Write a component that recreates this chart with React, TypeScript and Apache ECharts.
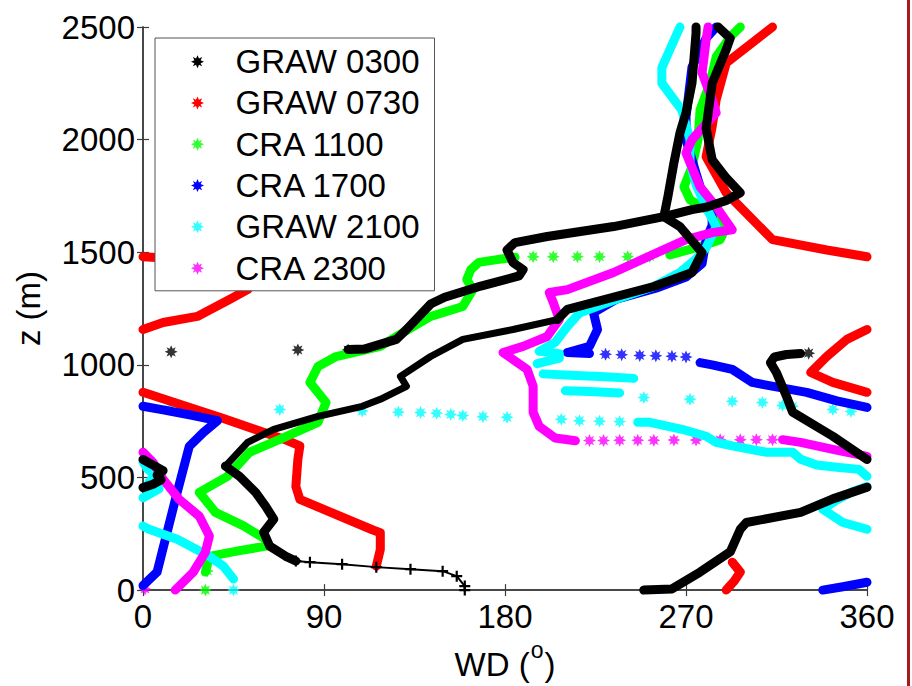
import React, { useEffect, useRef } from "react";
import * as echarts from "echarts";

type P = [number, number];

// ---------- axes / legend ----------
const xTicks = [0, 90, 180, 270, 360];
const yTicks = [0, 500, 1000, 1500, 2000, 2500];
const legendNames = ["GRAW 0300", "GRAW 0730", "CRA 1100", "CRA 1700", "GRAW 2100", "CRA 2300"];
const seriesColors = ["#000000", "#ff0000", "#00ff00", "#0000ff", "#00ffff", "#ff00ff"];

// ---------- GRAW 0300 (black) : [WD deg, z m] ----------
const graw0300A: P[] = [[249, 0], [263, 5], [277, 80], [292, 170], [297, 270], [300, 300], [327, 345], [343, 405], [360, 457]];
const graw0300B: P[] = [[0, 455], [5, 470], [9, 490], [7, 510], [10, 530], [5, 555], [0, 580]];
const graw0300C: P[] = [[360, 580], [343, 683], [323, 790], [320, 860], [315, 965], [312, 1010], [314, 1035], [320, 1046], [327, 1050]];
const graw0300Sparse: P[] = [[331, 1052], [14, 1058], [77, 1066], [102, 1066]];
const graw0300D: P[] = [[102, 1068], [110, 1070], [126, 1113], [131, 1157], [143, 1270], [150, 1300], [168, 1350], [187, 1395], [189, 1423], [184, 1454], [181, 1510], [185, 1543], [201, 1570], [234, 1614], [259, 1658], [273, 1689], [280, 1700], [290, 1730], [297, 1764], [290, 1830], [283, 1911], [280, 2050], [283, 2250], [290, 2400], [292, 2450], [286, 2500]];

// ---------- black "+" profile (no legend entry) ----------
const plusRow: P[] = [[160, 0], [160, 18], [156, 62], [149, 84], [133, 93], [116, 102], [99, 115], [83, 124], [76, 129]];
const plusLow: P[] = [[76, 129], [71, 150], [63, 195], [60, 257], [65, 315], [61, 372], [56, 434], [48, 505], [41, 550]];
const plusMid: P[] = [[41, 550], [52, 656], [65, 714], [87, 771], [109, 816], [118, 847], [131, 905], [128, 949], [143, 1037], [159, 1113], [184, 1157], [206, 1201]];
const plusTop: P[] = [[206, 1201], [211, 1246], [254, 1348], [273, 1410], [278, 1498], [267, 1614], [259, 1658], [261, 1747], [264, 1897], [267, 2030], [270, 2119], [273, 2252], [275, 2474], [275, 2500]];

// ---------- GRAW 0730 (red) ----------
const graw0730A: P[] = [[290, 0], [294, 40], [297, 80], [293, 124]];
const graw0730B: P[] = [[116, 106], [118, 180], [118, 255], [114, 268], [78, 403], [76, 460], [77, 580], [78, 640], [70, 670], [40, 762], [0, 878]];
const graw0730C: P[] = [[360, 878], [343, 922], [332, 966], [340, 1037], [350, 1113], [360, 1157]];
const graw0730D: P[] = [[0, 1157], [10, 1188], [27, 1215], [43, 1290], [52, 1334], [56, 1380], [45, 1440], [20, 1470], [0, 1480]];
const graw0730E: P[] = [[360, 1480], [340, 1510], [313, 1556], [290, 1764], [280, 1924], [283, 2057], [285, 2177], [290, 2340], [313, 2500]];

// ---------- CRA 1100 (green) ----------
const cra1100Sparse: P[] = [[31, 0], [32, 85], [194, 1480], [204, 1480], [216, 1480], [227, 1480], [241, 1480], [252, 1480]];
const cra1100A: P[] = [[31, 80], [33, 150], [48, 175], [61, 195], [61, 226], [50, 285], [36, 345], [28, 434], [42, 505], [53, 612], [68, 669], [87, 745], [91, 833], [83, 922], [87, 993], [96, 1037], [118, 1082], [126, 1126], [143, 1215], [159, 1259], [164, 1334], [161, 1379], [163, 1423], [167, 1455], [176, 1467], [185, 1478]];
const cra1100B: P[] = [[262, 1488], [277, 1525], [287, 1556], [290, 1614], [283, 1675], [272, 1733], [269, 1790], [273, 1880], [276, 2000], [277, 2132], [282, 2252], [285, 2367], [292, 2456], [297, 2500]];

// ---------- CRA 1700 (blue) ----------
const cra1700A: P[] = [[338, 0], [348, 15], [360, 35]];
const cra1700B: P[] = [[0, 20], [7, 80], [12, 257], [17, 434], [23, 638], [30, 700], [37, 752], [25, 775], [10, 800], [0, 816]];
const cra1700C: P[] = [[360, 811], [345, 840], [330, 878], [310, 910], [303, 922], [293, 980], [283, 1000], [277, 1010]];
const cra1700Sparse: P[] = [[270, 1035], [263, 1038], [255, 1040], [247, 1042], [238, 1045], [230, 1047]];
const cra1700D: P[] = [[222, 1050], [211, 1055], [222, 1082], [226, 1157], [224, 1232], [235, 1290], [255, 1340], [270, 1390], [278, 1450], [280, 1556], [283, 1620], [283, 1702], [279, 1733], [275, 1850], [270, 2000], [270, 2101], [273, 2323], [280, 2450], [285, 2500]];

// ---------- GRAW 2100 (cyan) ----------
const graw2100Sparse: P[] = [[45, 0], [237, 748], [227, 750], [217, 752], [208, 758], [181, 767], [169, 770], [159, 775], [153, 780], [146, 785], [138, 788], [127, 790], [109, 795], [68, 802], [13, 802], [352, 793], [343, 802], [323, 816], [318, 820], [308, 833], [293, 838], [272, 847], [249, 855]];
const graw2100A: P[] = [[45, 49], [40, 106], [33, 150], [17, 226], [3, 270], [0, 284]];
const graw2100B: P[] = [[360, 270], [348, 300], [338, 359], [345, 400], [352, 434], [360, 460]];
const graw2100C: P[] = [[0, 410], [4, 430], [8, 450], [3, 480], [6, 510], [2, 540], [0, 570]];
const graw2100D: P[] = [[360, 505], [356, 536], [345, 545], [335, 555], [327, 581], [323, 612], [310, 612], [293, 640], [285, 656], [280, 683], [268, 714], [252, 745], [246, 745]];
const graw2100E: P[] = [[237, 875], [222, 882], [210, 885]];
const graw2100F: P[] = [[244, 940], [230, 947], [215, 953], [199, 960]];
const graw2100G: P[] = [[196, 1005], [207, 1030], [207, 1050], [198, 1060]];
const graw2100H: P[] = [[197, 1060], [205, 1100], [211, 1170], [217, 1230], [235, 1290], [254, 1348], [267, 1410], [275, 1470], [280, 1520], [285, 1614], [280, 1700], [275, 1800], [272, 1900], [272, 2000], [268, 2130], [258, 2250], [258, 2320], [262, 2400], [267, 2500]];

// ---------- CRA 2300 (magenta) ----------
const cra2300Sparse: P[] = [[1, 5], [313, 668], [305, 668], [297, 667], [287, 667], [275, 666], [264, 666], [254, 665], [246, 665], [237, 665], [229, 664], [222, 664]];
const cra2300A: P[] = [[16, 0], [25, 80], [31, 168], [33, 240], [28, 328], [18, 403], [10, 492], [5, 567], [0, 612]];
const cra2300B: P[] = [[360, 594], [343, 625], [327, 656], [318, 668]];
const cra2300C: P[] = [[215, 663], [205, 675], [197, 727], [194, 789], [194, 905], [191, 980], [179, 1055], [189, 1082], [201, 1126], [207, 1201], [204, 1277], [202, 1321], [211, 1334], [234, 1410], [259, 1512], [270, 1556], [283, 1587], [293, 1600], [285, 1702], [277, 1790], [270, 1941], [273, 2000], [285, 2119], [283, 2177], [278, 2296], [280, 2443], [281, 2500]];

const STAR =
  "path://M10 0L12.3 5.2L17.1 2.9L14.8 7.7L20 10L14.8 12.3L17.1 17.1L12.3 14.8L10 20L7.7 14.8L2.9 17.1L5.2 12.3L0 10L5.2 7.7L2.9 2.9L7.7 5.2Z";
const PLUS = "path://M4 0H6V4H10V6H6V10H4V6H0V4H4Z";
const FONT = "'Liberation Sans', Arial, Helvetica, sans-serif";
const LINE_W = 9;

function dense(name: string, data: P[], color: string, width = LINE_W) {
  return {
    type: "line",
    name,
    data,
    symbol: "none",
    clip: false,
    silent: true,
    lineStyle: { color, width, cap: "round", join: "round" },
    itemStyle: { color },
  };
}
function sparse(name: string, data: P[], color: string, size = 13, symbol = STAR) {
  return {
    type: "scatter",
    name,
    data,
    symbol,
    symbolSize: size,
    clip: false,
    silent: true,
    itemStyle: { color },
  };
}

export default function App() {
  const ref = useRef<HTMLDivElement>(null);
  useEffect(() => {
    document.body.style.margin = "0";
    const chart = echarts.init(ref.current as HTMLDivElement, undefined, { renderer: "svg" });
    const [n0, n1, n2, n3, n4, n5] = legendNames;
    const [c0, c1, c2, c3, c4, c5] = seriesColors;
    const axisLine = { show: true, lineStyle: { color: "#3c3c3c", width: 1.5 } };
    const tick = { show: true, inside: true, length: 6, lineStyle: { color: "#3c3c3c", width: 1.2 } };
    const series: any[] = [
      dense(n1, graw0730A, c1), dense(n1, graw0730B, c1), dense(n1, graw0730C, c1), dense(n1, graw0730D, c1), dense(n1, graw0730E, c1),
      sparse(n2, cra1100Sparse, c2), dense(n2, cra1100A, c2), dense(n2, cra1100B, c2),
      dense(n3, cra1700A, c3), dense(n3, cra1700B, c3), dense(n3, cra1700C, c3), sparse(n3, cra1700Sparse, c3), dense(n3, cra1700D, c3),
      sparse(n4, graw2100Sparse, c4), dense(n4, graw2100A, c4), dense(n4, graw2100B, c4), dense(n4, graw2100C, c4), dense(n4, graw2100D, c4),
      dense(n4, graw2100E, c4), dense(n4, graw2100F, c4), dense(n4, graw2100G, c4), dense(n4, graw2100H, c4),
      sparse(n5, cra2300Sparse, c5), dense(n5, cra2300A, c5), dense(n5, cra2300B, c5), dense(n5, cra2300C, c5),
      dense(n0, graw0300A, c0), dense(n0, graw0300B, c0), dense(n0, graw0300C, c0), sparse(n0, graw0300Sparse, c0), dense(n0, graw0300D, c0),
      { ...dense("_plus", plusRow, c0, 2), symbol: PLUS, symbolSize: 11, showSymbol: true, itemStyle: { color: c0 } },
      dense("_plus", plusLow, c0), dense("_plus", plusMid, c0, 7), dense("_plus", plusTop, c0),
    ];
    chart.setOption({
      animation: false,
      textStyle: { fontFamily: FONT },
      grid: { left: 143, right: 45, top: 27, bottom: 95, containLabel: false },
      legend: {
        data: legendNames.map((n, i) => ({ name: n, icon: STAR, itemStyle: { color: seriesColors[i] } })),
        orient: "vertical",
        left: 155,
        top: 38,
        padding: [3, 15, 2, 36],
        itemWidth: 66,
        itemHeight: 13,
        itemGap: 0,
        backgroundColor: "#ffffff",
        borderColor: "#555555",
        borderWidth: 1,
        selectedMode: false,
        textStyle: { fontSize: 33, lineHeight: 41.3, color: "#000", fontFamily: FONT },
      },
      xAxis: [
        {
          type: "value", min: xTicks[0], max: xTicks[xTicks.length - 1], interval: xTicks[1] - xTicks[0],
          position: "bottom", axisLine, axisTick: tick, splitLine: { show: false },
          axisLabel: { fontSize: 33, color: "#000", margin: 10, fontFamily: FONT, formatter: (v: number) => String(v) },
          name: "{n|WD (}{s|o}{n|)}", nameLocation: "middle", nameGap: 41,
          nameTextStyle: {
            rich: {
              n: { fontSize: 33, color: "#000", fontFamily: FONT },
              s: { fontSize: 23, color: "#000", fontFamily: FONT, verticalAlign: "top", padding: [0, 1, 30, 1] },
            },
          },
        },
        {
          type: "value", min: xTicks[0], max: xTicks[xTicks.length - 1], interval: xTicks[1] - xTicks[0],
          position: "top", axisLine, axisTick: tick, axisLabel: { show: false }, splitLine: { show: false },
        },
      ],
      yAxis: [
        {
          type: "value", min: yTicks[0], max: yTicks[yTicks.length - 1], interval: yTicks[1] - yTicks[0],
          position: "left", axisLine, axisTick: tick, splitLine: { show: false },
          axisLabel: { fontSize: 33, color: "#000", margin: 8, fontFamily: FONT, formatter: (v: number) => String(v) },
          name: "z (m)", nameLocation: "middle", nameGap: 98,
          nameTextStyle: { fontSize: 33, color: "#000", fontFamily: FONT },
        },
        {
          type: "value", min: yTicks[0], max: yTicks[yTicks.length - 1], interval: yTicks[1] - yTicks[0],
          position: "right", axisLine, axisTick: tick, axisLabel: { show: false }, splitLine: { show: false },
        },
      ],
      graphic: [
        { type: "rect", left: 907, top: 0, shape: { x: 0, y: 0, width: 3, height: 686 }, style: { fill: "#a81a1a" } },
      ],
      series,
    });
    return () => chart.dispose();
  }, []);
  return <div ref={ref} style={{ position: "fixed", left: 0, top: 0, width: 912, height: 686, background: "#fff" }} />;
}
